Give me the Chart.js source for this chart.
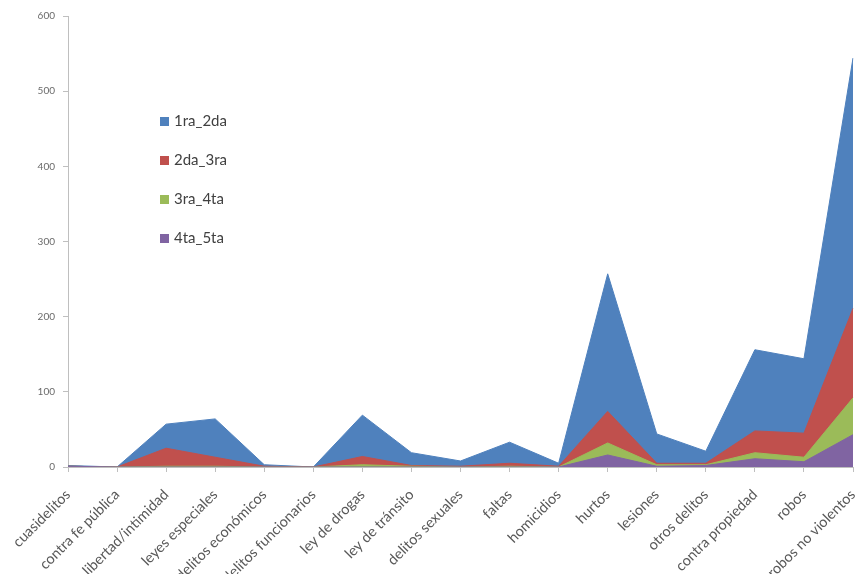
<!DOCTYPE html>
<html>
<head>
<meta charset="utf-8">
<script src="https://cdn.jsdelivr.net/npm/chart.js@4/dist/chart.umd.min.js"></script>
<style>
  html, body { margin: 0; padding: 0; background: #ffffff; overflow: hidden; }
  #wrap { position: relative; width: 858px; height: 574px; }
  #legend { position: absolute; left: 160px; top: 111px; font-family: Lato, "Open Sans", sans-serif; font-size: 15px; color: #404040; }
  .li { height: 39px; display: flex; align-items: flex-start; }
  .sw { width: 9px; height: 9px; margin-top: 6px; margin-right: 5px; }
</style>
</head>
<body>
<div id="wrap">
  <canvas id="c" width="858" height="574"></canvas>
  <div id="legend"></div>
</div>
<script>
const categories = ['cuasidelitos','contra fe pública','libertad/intimidad','leyes especiales','delitos económicos','delitos funcionarios','ley de drogas','ley de tránsito','delitos sexuales','faltas','homicidios','hurtos','lesiones','otros delitos','contra propiedad','robos','robos no violentos'];
const seriesNames = ['1ra_2da','2da_3ra','3ra_4ta','4ta_5ta'];
const s1ra_2da = [2,0,57,64,3,0,69,19,8,33,5,257,44,21,156,144,544];
const s2da_3ra = [1,0,25,13,1,0,14,2,1,5,1,74,5,5,48,45,211];
const s3ra_4ta = [1,0,1,1,0,0,3,1,0,1,0,32,3,3,19,13,92];
const s4ta_5ta = [1,0,0,0,0,0,0,0,0,0,0,16,1,2,11,7,43];
const yTicks = [0,100,200,300,400,500,600];
const colors = ['#4F81BD','#C0504D','#9BBB59','#8064A2'];
const seriesData = [s1ra_2da, s2da_3ra, s3ra_4ta, s4ta_5ta];

const datasets = seriesData.map((d, i) => ({
  label: seriesNames[i],
  data: d,
  backgroundColor: colors[i],
  borderColor: colors[i],
  borderWidth: 1,
  fill: 'origin',
  pointRadius: 0,
  tension: 0,
  order: 4 - i
}));

const legend = document.getElementById('legend');
seriesNames.forEach((n, i) => {
  const row = document.createElement('div');
  row.className = 'li';
  const sw = document.createElement('div');
  sw.className = 'sw';
  sw.style.background = colors[i];
  const t = document.createElement('span');
  t.textContent = n;
  row.appendChild(sw); row.appendChild(t);
  legend.appendChild(row);
});

new Chart(document.getElementById('c'), {
  type: 'line',
  data: { labels: categories, datasets },
  options: {
    responsive: false,
    animation: false,
    layout: { padding: { left: 0, right: 5, top: 16, bottom: 0 } },
    plugins: { legend: { display: false }, tooltip: { enabled: false } },
    scales: {
      x: {
        offset: false,
        grid: { display: true, drawOnChartArea: false, drawTicks: true, tickLength: 5, color: '#bfbfbf' },
        border: { display: true, color: '#bfbfbf' },
        ticks: { autoSkip: false, maxRotation: 45, minRotation: 45, color: '#595959', font: { family: 'Lato', size: 14.5 }, padding: 14 },
        afterFit: s => { s.height = 107; s.paddingLeft = 0; s.paddingRight = 0; }
      },
      y: {
        min: 0, max: 600,
        afterBuildTicks: s => { s.ticks = yTicks.map(v => ({ value: v })); },
        grid: { display: true, drawOnChartArea: false, drawTicks: true, tickLength: 5, color: '#bfbfbf' },
        border: { display: true, color: '#bfbfbf' },
        ticks: { color: '#6a6a6a', font: { family: 'Lato', size: 10 }, padding: 8 },
        afterFit: s => { s.width = 68; }
      }
    }
  }
});
</script>
</body>
</html>
